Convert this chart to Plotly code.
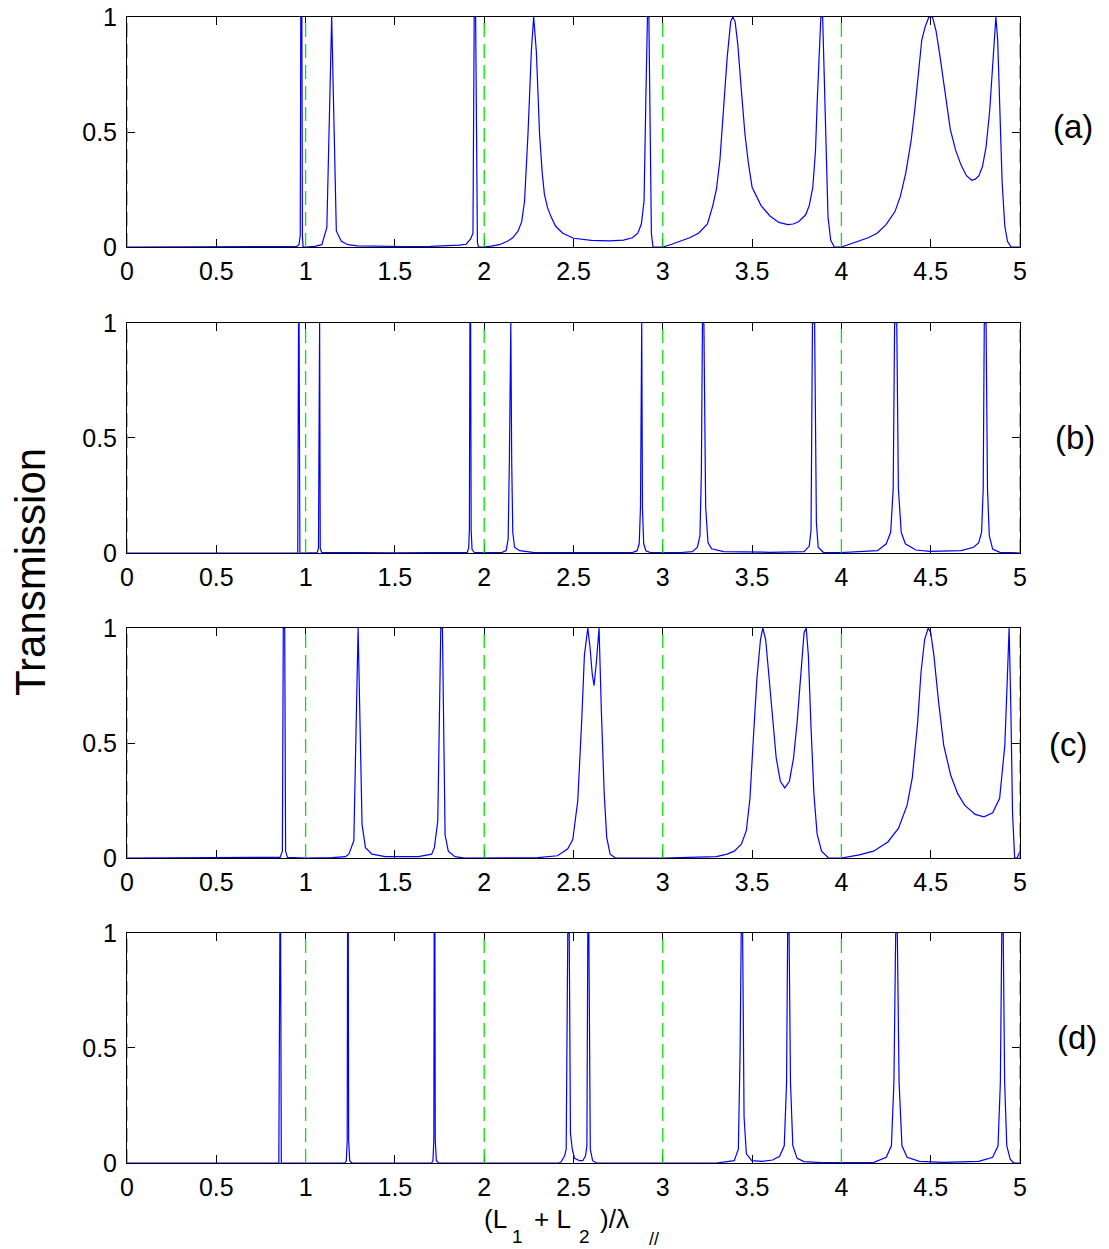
import plotly.graph_objects as go

# ---------------- data ----------------
x_tick_vals = [0, 0.5, 1, 1.5, 2, 2.5, 3, 3.5, 4, 4.5, 5]
x_tick_text = ["0", "0.5", "1", "1.5", "2", "2.5", "3", "3.5", "4", "4.5", "5"]
y_tick_vals = [0, 0.5, 1]
y_tick_text = ["0", "0.5", "1"]
guide_x = [0, 1, 2, 3, 4, 5]
panel_labels = ["(a)", "(b)", "(c)", "(d)"]

a_x = [0, 0.90, 0.950, 0.963, 0.970, 0.973, 0.979, 0.982, 0.986, 1.000, 1.050, 1.091,
       1.119, 1.146, 1.172, 1.200, 1.237, 1.290, 1.400, 1.550, 1.700, 1.800, 1.860,
       1.899, 1.924, 1.937, 1.944, 1.952, 1.962, 1.968, 2.000, 2.040, 2.085, 2.130,
       2.160, 2.190, 2.210, 2.226, 2.245, 2.264, 2.277, 2.292, 2.310, 2.325, 2.337,
       2.355, 2.375, 2.400, 2.440, 2.500, 2.600, 2.700, 2.780, 2.830, 2.860, 2.880,
       2.895, 2.905, 2.914, 2.922, 2.930, 2.936, 2.945, 2.970, 3.000, 3.050, 3.100,
       3.150, 3.200, 3.250, 3.280, 3.300, 3.320, 3.340, 3.360, 3.380, 3.392, 3.405,
       3.420, 3.440, 3.460, 3.480, 3.500, 3.550, 3.600, 3.650, 3.700, 3.730, 3.760,
       3.800, 3.820, 3.840, 3.855, 3.865, 3.875, 3.885, 3.895, 3.905, 3.915, 3.925,
       3.940, 3.960, 4.000, 4.050, 4.100, 4.150, 4.200, 4.250, 4.300, 4.330, 4.360,
       4.390, 4.410, 4.430, 4.450, 4.470, 4.490, 4.510, 4.530, 4.550, 4.580, 4.610,
       4.640, 4.670, 4.700, 4.730, 4.750, 4.770, 4.790, 4.810, 4.830, 4.845, 4.855,
       4.865, 4.875, 4.885, 4.900, 4.915, 4.930, 4.950, 5.000]
a_y = [0, 0, 0.002, 0.010, 0.050, 1.000, 1.000, 0.050, 0.000, 0.000, 0.003, 0.010,
       0.085, 1.000, 0.070, 0.025, 0.010, 0.005, 0.003, 0.002, 0.003, 0.005, 0.008,
       0.012, 0.035, 0.060, 1.000, 1.000, 0.020, 0.000, 0.000, 0.004, 0.010, 0.025,
       0.040, 0.070, 0.110, 0.200, 0.490, 0.850, 1.000, 0.850, 0.490, 0.320, 0.230,
       0.170, 0.130, 0.090, 0.060, 0.038, 0.029, 0.027, 0.030, 0.040, 0.060, 0.100,
       0.200, 0.640, 1.000, 1.000, 0.450, 0.060, 0.000, 0.000, 0.000, 0.012, 0.025,
       0.040, 0.060, 0.100, 0.180, 0.250, 0.380, 0.590, 0.820, 0.980, 1.000, 0.980,
       0.880, 0.680, 0.490, 0.360, 0.260, 0.180, 0.135, 0.107, 0.097, 0.100, 0.110,
       0.140, 0.180, 0.260, 0.420, 0.640, 0.850, 1.000, 1.000, 0.710, 0.350, 0.130,
       0.030, 0.000, 0.000, 0.013, 0.025, 0.040, 0.060, 0.097, 0.154, 0.220, 0.320,
       0.460, 0.590, 0.750, 0.900, 0.960, 1.000, 1.000, 0.940, 0.840, 0.670, 0.510,
       0.420, 0.356, 0.310, 0.290, 0.295, 0.310, 0.350, 0.435, 0.590, 0.780, 0.920,
       1.000, 0.900, 0.640, 0.280, 0.090, 0.025, 0.000, 0.000]

b_x = [0, 0.956, 0.9605, 0.9635, 0.968, 1.065, 1.072, 1.0755, 1.0785, 1.082, 1.090,
       1.500, 1.905, 1.913, 1.917, 1.920, 1.924, 1.927, 1.932, 1.945, 2.100, 2.123,
       2.134, 2.141, 2.145, 2.149, 2.154, 2.160, 2.170, 2.198, 2.272, 2.600, 2.830,
       2.856, 2.868, 2.875, 2.878, 2.882, 2.886, 2.893, 2.905, 2.930, 3.100, 3.165,
       3.194, 3.208, 3.216, 3.222, 3.230, 3.240, 3.253, 3.273, 3.340, 3.600, 3.791,
       3.820, 3.830, 3.838, 3.850, 3.860, 3.870, 3.899, 4.000, 4.202, 4.251, 4.276,
       4.290, 4.298, 4.310, 4.319, 4.335, 4.358, 4.417, 4.495, 4.671, 4.740, 4.769,
       4.785, 4.794, 4.800, 4.810, 4.818, 4.828, 4.847, 4.887, 5.000]
b_y = [0, 0.000, 1.000, 1.000, 0.000, 0.002, 0.020, 1.000, 1.000, 0.020, 0.003,
       0.001, 0.003, 0.020, 0.100, 1.000, 1.000, 0.100, 0.015, 0.002, 0.003, 0.010,
       0.060, 0.400, 1.000, 1.000, 0.400, 0.090, 0.025, 0.010, 0.003, 0.002, 0.002,
       0.010, 0.040, 0.200, 1.000, 1.000, 0.200, 0.040, 0.010, 0.002, 0.002, 0.006,
       0.025, 0.075, 0.350, 1.000, 1.000, 0.200, 0.045, 0.018, 0.006, 0.003, 0.006,
       0.030, 0.100, 1.000, 1.000, 0.130, 0.025, 0.003, 0.002, 0.010, 0.040, 0.090,
       0.280, 1.000, 1.000, 0.280, 0.090, 0.040, 0.013, 0.007, 0.010, 0.025, 0.045,
       0.090, 0.280, 1.000, 1.000, 0.280, 0.075, 0.017, 0.003, 0.000]

c_x = [0, 0.800, 0.857, 0.870, 0.875, 0.883, 0.888, 0.898, 1.000, 1.150, 1.223,
       1.242, 1.270, 1.294, 1.316, 1.335, 1.372, 1.446, 1.550, 1.632, 1.706, 1.721,
       1.740, 1.757, 1.766, 1.781, 1.799, 1.836, 1.892, 2.100, 2.300, 2.410, 2.468,
       2.496, 2.524, 2.546, 2.561, 2.580, 2.592, 2.605, 2.615, 2.628, 2.643, 2.656,
       2.672, 2.686, 2.705, 2.735, 3.000, 3.300, 3.360, 3.400, 3.440, 3.468, 3.488,
       3.507, 3.527, 3.547, 3.560, 3.576, 3.595, 3.615, 3.635, 3.658, 3.683, 3.709,
       3.732, 3.752, 3.772, 3.791, 3.803, 3.815, 3.830, 3.846, 3.864, 3.889, 3.928,
       4.000, 4.100, 4.180, 4.260, 4.320, 4.368, 4.397, 4.427, 4.446, 4.466, 4.486,
       4.500, 4.518, 4.544, 4.573, 4.612, 4.651, 4.690, 4.749, 4.798, 4.847, 4.886,
       4.915, 4.929, 4.939, 4.949, 4.958, 4.970, 4.984, 5.000]
c_y = [0, 0.000, 0.003, 0.030, 1.000, 1.000, 0.030, 0.003, 0.000, 0.002, 0.006,
       0.017, 0.075, 1.000, 0.147, 0.045, 0.017, 0.006, 0.005, 0.006, 0.017, 0.045,
       0.160, 1.000, 1.000, 0.100, 0.030, 0.006, 0.000, 0.000, 0.002, 0.010, 0.040,
       0.080, 0.250, 0.600, 0.880, 1.000, 0.920, 0.800, 0.750, 0.850, 1.000, 0.640,
       0.280, 0.090, 0.017, 0.000, 0.000, 0.006, 0.017, 0.030, 0.060, 0.120, 0.260,
       0.520, 0.780, 0.950, 1.000, 0.950, 0.780, 0.580, 0.435, 0.334, 0.305, 0.334,
       0.435, 0.590, 0.810, 0.980, 1.000, 0.880, 0.565, 0.280, 0.104, 0.030, 0.000,
       0.000, 0.014, 0.030, 0.070, 0.130, 0.230, 0.350, 0.590, 0.810, 0.950, 1.000,
       0.980, 0.880, 0.680, 0.490, 0.360, 0.280, 0.230, 0.190, 0.179, 0.197, 0.260,
       0.490, 0.780, 1.000, 0.640, 0.200, 0.000, 0.000, 0.030]

d_x = [0, 0.850, 0.856, 0.860, 0.864, 1.220, 1.228, 1.233, 1.235, 1.239, 1.241,
       1.247, 1.260, 1.705, 1.713, 1.718, 1.720, 1.724, 1.726, 1.732, 1.745, 2.420,
       2.431, 2.450, 2.459, 2.468, 2.476, 2.483, 2.493, 2.506, 2.534, 2.552, 2.567,
       2.575, 2.580, 2.586, 2.594, 2.607, 2.630, 3.300, 3.400, 3.423, 3.433, 3.439,
       3.447, 3.455, 3.468, 3.498, 3.556, 3.615, 3.654, 3.680, 3.693, 3.699, 3.707,
       3.715, 3.728, 3.752, 3.791, 3.889, 4.182, 4.251, 4.280, 4.294, 4.304, 4.313,
       4.323, 4.339, 4.368, 4.437, 4.574, 4.769, 4.847, 4.877, 4.890, 4.898, 4.906,
       4.914, 4.926, 4.945, 4.965, 5.000]
d_y = [0, 0.000, 1.000, 1.000, 0.000, 0.000, 0.010, 0.100, 1.000, 1.000, 0.100,
       0.010, 0.000, 0.000, 0.010, 0.100, 1.000, 1.000, 0.100, 0.010, 0.000, 0.000,
       0.006, 0.030, 0.060, 1.000, 1.000, 0.130, 0.060, 0.020, 0.010, 0.010, 0.030,
       0.075, 1.000, 1.000, 0.060, 0.010, 0.000, 0.000, 0.010, 0.060, 0.490, 1.000,
       1.000, 0.200, 0.040, 0.010, 0.007, 0.013, 0.029, 0.075, 0.350, 1.000, 1.000,
       0.350, 0.075, 0.020, 0.006, 0.002, 0.003, 0.025, 0.075, 0.350, 1.000, 1.000,
       0.350, 0.075, 0.025, 0.007, 0.003, 0.007, 0.025, 0.075, 0.350, 1.000, 1.000,
       0.350, 0.075, 0.017, 0.000, 0.000]

series = [(a_x, a_y), (b_x, b_y), (c_x, c_y), (d_x, d_y)]

# x-axis title pieces: (text, font size, left pixel, vertical-centre pixel)
xtitle_parts = [("(L", 26, 483, 1219), ("1", 19, 511, 1236), ("+ L", 26, 533, 1219),
                ("2", 19, 578, 1236), (")/λ", 26, 599, 1219), ("//", 18, 648, 1239)]

# ---------------- layout geometry ----------------
W, H = 1109, 1249
ML, MR, MT, MB = 127, 89, 17, 86
PW, PH = W - ML - MR, H - MT - MB
domains = [[0.7993, 1.0], [0.5323, 0.7330], [0.2661, 0.4668], [0.0, 0.2007]]
label_pix = [(1073, 127), (1075, 437), (1068, 745), (1077, 1037)]


def px_to_paper(px, py):
    return (px - ML) / PW, (H - MB - py) / PH


FONT = "Liberation Sans, Arial, Helvetica, sans-serif"
BLUE = "#0000ff"
GREEN = "#00e600"

fig = go.Figure()

for i, (xs, ys) in enumerate(series):
    n = i + 1
    xa = "x" if n == 1 else f"x{n}"
    ya = "y" if n == 1 else f"y{n}"
    fig.add_trace(go.Scatter(x=xs, y=ys, mode="lines",
                             line=dict(color=BLUE, width=1.2),
                             xaxis=xa, yaxis=ya, showlegend=False,
                             hoverinfo="skip"))
    gx, gy = [], []
    for g in guide_x:
        gx += [g, g, None]
        gy += [0, 1, None]
    fig.add_trace(go.Scatter(x=gx, y=gy, mode="lines",
                             line=dict(color=GREEN, width=1.3, dash="14px,7px"),
                             xaxis=xa, yaxis=ya, showlegend=False,
                             hoverinfo="skip", cliponaxis=False))

axis_common = dict(showline=True, linecolor="black", linewidth=1, mirror="ticks",
                   ticks="inside", ticklen=8, tickcolor="black", tickwidth=1,
                   showgrid=False, zeroline=False, automargin=False,
                   layer="below traces",
                   tickfont=dict(family=FONT, size=25, color="black"))

layout = dict(width=W, height=H, autosize=False,
              margin=dict(l=ML, r=MR, t=MT, b=MB, pad=0, autoexpand=False),
              paper_bgcolor="white", plot_bgcolor="white",
              font=dict(family=FONT, color="black"))

for i in range(4):
    n = i + 1
    xk = "xaxis" if n == 1 else f"xaxis{n}"
    yk = "yaxis" if n == 1 else f"yaxis{n}"
    ya = "y" if n == 1 else f"y{n}"
    xa = "x" if n == 1 else f"x{n}"
    layout[xk] = dict(axis_common, domain=[0, 1], anchor=ya, range=[0, 5],
                      tickmode="array", tickvals=x_tick_vals, ticktext=x_tick_text,
                      ticklabelstandoff=2)
    layout[yk] = dict(axis_common, domain=domains[i], anchor=xa, range=[0, 1],
                      tickmode="array", tickvals=y_tick_vals, ticktext=y_tick_text,
                      ticklabelstandoff=4)

fig.update_layout(**layout)

annotations = []
for (lpx, lpy), txt in zip(label_pix, panel_labels):
    lx, ly = px_to_paper(lpx, lpy)
    annotations.append(dict(x=lx, y=ly, xref="paper", yref="paper", text=txt,
                            showarrow=False, xanchor="center", yanchor="middle",
                            font=dict(family=FONT, size=33, color="black")))
tx, ty = px_to_paper(30, 572)
annotations.append(dict(x=tx, y=ty, xref="paper", yref="paper",
                        text="Transmission", textangle=-90, showarrow=False,
                        xanchor="center", yanchor="middle",
                        font=dict(family=FONT, size=42, color="black")))
for txt, fs, lpx, cpy in xtitle_parts:
    ax_, ay_ = px_to_paper(lpx, cpy)
    annotations.append(dict(x=ax_, y=ay_, xref="paper", yref="paper", text=txt,
                            showarrow=False, xanchor="left", yanchor="middle",
                            borderpad=0,
                            font=dict(family=FONT, size=fs, color="black")))
fig.update_layout(annotations=annotations)

fig.write_html("out.html")
